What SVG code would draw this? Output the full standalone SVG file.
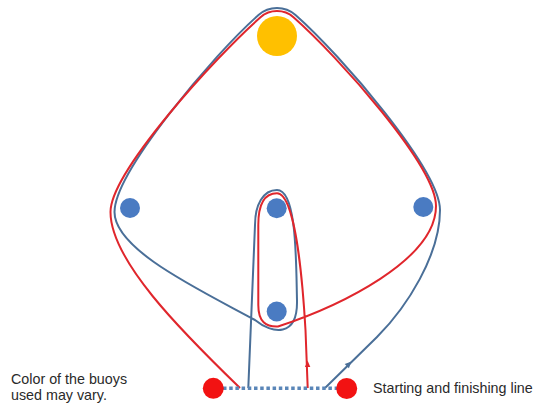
<svg xmlns="http://www.w3.org/2000/svg" width="534" height="405" viewBox="0 0 534 405">
<style>
.lbl{font-family:"Liberation Sans",Arial,sans-serif;font-size:14.3px;fill:#2a2a2a}
.blueline{fill:none;stroke:#4a6f98;stroke-width:2}
.redline{fill:none;stroke:#e0262c;stroke-width:2}
.buoyB{fill:#4a7bc2}
.buoyR{fill:#f21212}
</style>
<rect width="534" height="405" fill="#fff"/>
<g id="connectors">
<path class="blueline" d="M325,388 L377,337 C407,307 440,255 440,210 C440,170 340.5,54.6 295.5,15 A28,28 0 0 0 258.5,15 C213.5,54.6 114.5,172 114.5,212 C114.5,250 200,290 255,320 C272,334 298,338 297,300 C296,262 297,190 277,190 C263,190 255,205 255,225 L248.3,388"/>
<path class="redline" d="M307.7,388 L305.5,330 C302,270 294,193.3 277,193.3 C264,193.3 258.3,205 258.3,225 L258.3,305 C258.3,322 266,327 278,326.5 C340,306 436,260 436,206 C436,166 338.5,56.9 293.5,17.3 A25,25 0 0 0 260.5,17.3 C215.5,56.9 110.5,172 110.5,212 C110.5,260 180,330 240,388"/>
<path d="M307.6,360.5 L310.3,367 L304.9,367 Z" fill="#e0262c"/>
<path d="M351.5,361.5 L348.9,368.3 L344.7,364.1 Z" fill="#4a6f98"/>
<line id="start-line" x1="223" y1="388.3" x2="337" y2="388.3" stroke="#5a86b8" stroke-width="3.5" stroke-dasharray="3.5 2.7"/>
</g>
<g id="buoy-yellow"><circle cx="277" cy="36" r="20" fill="#ffc000"/></g>
<g id="buoy-left"><circle class="buoyB" cx="130" cy="208" r="10"/></g>
<g id="buoy-mid-top"><circle class="buoyB" cx="276.7" cy="208.3" r="10"/></g>
<g id="buoy-right"><circle class="buoyB" cx="423.3" cy="207" r="10"/></g>
<g id="buoy-mid-bottom"><circle class="buoyB" cx="276.7" cy="311.5" r="10"/></g>
<g id="buoy-start-left"><circle class="buoyR" cx="213.3" cy="388.3" r="10.5"/></g>
<g id="buoy-start-right"><circle class="buoyR" cx="346.7" cy="388.5" r="10.5"/></g>
<g id="note"><text class="lbl" x="11" y="384">Color of the buoys</text><text class="lbl" x="11" y="400">used may vary.</text></g>
<g id="start-label"><text class="lbl" x="373" y="393">Starting and finishing line</text></g>
</svg>
